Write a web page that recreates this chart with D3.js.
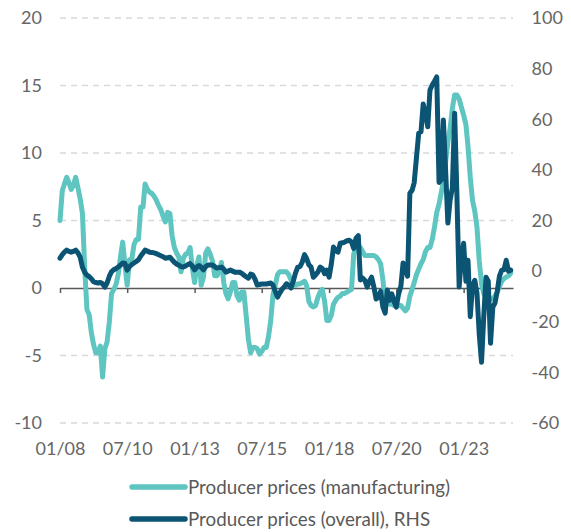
<!DOCTYPE html>
<html>
<head>
<meta charset="utf-8">
<script src="https://cdn.jsdelivr.net/npm/d3@7"></script>
<style>
body { margin: 0; background: #fff; }
svg text { font-family: Lato, sans-serif; }
</style>
</head>
<body>
<script>
const width = 571,
    height = 532

// monthly, 01/2008 .. 10/2024
const months = d3.timeMonth.range(new Date(2008, 0, 1), new Date(2024, 10, 1))

const manufacturing = [
    5.0, 7.2, 7.7, 8.2, 7.8, 7.3, 7.6, 8.2, 7.4, 6.6,
    5.5, 1.5, -1.6, -2.0, -3.3, -4.2, -4.8, -4.8, -4.3, -6.6,
    -4.5, -4.0, -2.5, -0.4, -0.1, 0.3, 1.0, 2.3, 3.4, 1.7,
    0.2, 2.1, 2.1, 3.2, 3.6, 3.6, 6.0, 6.0, 7.7, 7.3,
    7.1, 7.0, 6.8, 6.5, 6.1, 5.8, 5.3, 4.9, 5.6, 5.5,
    3.9, 3.0, 2.6, 2.3, 1.2, 2.2, 2.5, 2.6, 3.0, 1.5,
    0.4, 1.7, 2.3, 0.2, 0.8, 2.6, 2.9, 2.5, 2.0, 0.9,
    0.9, 1.3, 1.9, 0.4, -0.4, -0.8, -0.3, 0.4, 0.4, -0.6,
    -0.9, -0.3, -0.3, -2.0, -3.8, -4.8, -4.4, -4.4, -4.5, -4.9,
    -4.7, -4.4, -4.4, -3.6, -2.4, -0.5, 0.2, 1.0, 1.2, 1.2,
    1.2, 1.2, 1.0, 0.6, 0.3, 0.2, 0.3, 0.3, 0.4, 0.5,
    0.2, -1.0, -1.3, -1.4, -1.3, -0.7, -0.3, -0.1, -1.0, -2.4,
    -2.4, -2.0, -1.2, -0.9, -0.7, -0.6, -0.4, -0.4, -0.3, -0.2,
    -0.1, 2.5, 3.1, 3.1, 3.0, 2.7, 2.4, 2.4, 2.4, 2.4,
    2.4, 2.3, 2.1, 1.8, 0.6, -1.0, -1.1, -1.2, -1.2, -1.3,
    -1.3, -1.3, -1.3, -1.5, -1.7, -1.5, -0.6, -0.1, 0.4, 1.0,
    1.4, 1.8, 2.1, 2.7, 3.0, 3.0, 3.6, 4.5, 5.6, 6.2,
    7.0, 7.9, 9.3, 10.8, 11.8, 13.3, 14.3, 14.3, 14.0, 13.4,
    12.8, 12.1, 10.5, 8.2, 6.5, 5.7, 4.5, 2.0, 0.3, -0.4,
    -0.7, -0.8, -0.8, -0.8, -0.6, -0.3, 0.1, 0.5, 0.7, 0.8, 0.9, 1.1
]

const overall = [
    5.1, 6.5, 7.5, 8.3, 7.8, 7.5, 7.8, 8.3, 7.2, 5.5,
    1.5, -0.4, -1.6, -2.2, -3.0, -4.2, -4.5, -4.7, -4.5, -5.0,
    -6.3, -4.7, -2.0, -0.2, 0.6, 1.0, 1.6, 2.4, 3.2, 3.0,
    0.4, 1.8, 2.6, 3.2, 3.8, 4.5, 6.0, 7.2, 8.3, 7.9,
    7.5, 7.4, 7.2, 6.9, 6.5, 6.1, 5.7, 5.1, 5.3, 5.5,
    4.5, 3.5, 2.8, 2.3, 1.8, 1.6, 2.0, 2.6, 3.0, 2.0,
    0.5, 1.6, 2.2, 1.5, 0.5, 1.8, 2.4, 2.4, 2.4, 1.8,
    1.2, 1.4, 1.6, 0.8, -0.4, 0.0, 0.4, 0.0, -0.4, -0.4,
    -0.4, -0.8, -1.6, -2.2, -2.8, -1.2, -1.5, -3.2, -5.5, -5.3,
    -5.1, -5.1, -5.1, -4.9, -4.7, -5.5, -8.0, -10.3, -8.7, -7.2,
    -6.3, -5.0, -5.5, -6.7, -4.0, -0.8, 1.6, 1.8, 3.6, 6.5,
    5.0, 2.5, 1.6, -2.4, -1.5, -0.4, 1.6, 1.0, -1.0, 0.4,
    -2.4, 3.0, 9.5, 8.0, 7.5, 11.0, 11.2, 11.5, 12.0, 12.2,
    11.5, 9.0, 13.0, 14.0, -3.5, -2.8, -3.6, -6.3, -4.0, -2.4,
    -6.3, -11.0, -10.3, -8.0, -14.2, -16.6, -7.5, -11.5, -9.0, -12.0,
    -14.2, -9.0, -6.0, 3.2, 1.0, -2.0, 30.8, 32.0, 35.0, 45.0,
    54.5, 55.0, 66.0, 62.0, 57.0, 71.5, 73.5, 75.0, 76.7, 35.0,
    36.0, 59.7, 40.0, 19.0, 28.0, 33.0, 62.4, 30.8, -6.3, 5.0,
    11.0, -4.0, 4.3, -18.0, -6.0, -3.6, -8.7, -25.0, -36.0, -18.0,
    -2.4, -4.0, -28.5, -14.2, -12.6, -8.0, -2.0, 0.4, 0.5, 4.3, 0.0, 0.4
]

const xTickLabels = ["01/08", "07/10", "01/13", "07/15", "01/18", "07/20", "01/23"]
const leftTicks = [-10, -5, 0, 5, 10, 15, 20]
const rightTicks = [-60, -40, -20, 0, 20, 40, 60, 80, 100]
const seriesNames = ["Producer prices (manufacturing)", "Producer prices (overall), RHS"]

const colors = ["#5ec5c1", "#0b5473"]
const axisGrey = "#666"
const plain = d => String(d)   // keep the ASCII hyphen for negatives

const svg = d3.select("body")
    .append("svg")
    .attr("width", width)
    .attr("height", height)

const x = d3.scaleTime()
    .domain([new Date(2008, 0, 1), new Date(2024, 10, 1)])
    .range([60, 513])
const yLeft = d3.scaleLinear().domain([-10, 20]).range([423, 18])
const yRight = d3.scaleLinear().domain([-60, 100]).range([423, 18])

const parseTick = d3.timeParse("%m/%y")
const tickDates = xTickLabels.map(parseTick)

// dashed grid
svg.append("g")
    .selectAll("line")
    .data(leftTicks.filter(d => d !== 0))
    .join("line")
    .attr("x1", 60)
    .attr("x2", 513)
    .attr("y1", d => yLeft(d))
    .attr("y2", d => yLeft(d))
    .attr("stroke", "#d9d9d9")
    .attr("stroke-width", 1.5)
    .attr("stroke-dasharray", "6,5")

// left axis labels
svg.append("g")
    .attr("transform", "translate(60,0)")
    .call(d3.axisLeft(yLeft).tickValues(leftTicks).tickSize(0).tickPadding(18).tickFormat(plain))
    .call(g => g.select(".domain").remove())
    .selectAll("text")
    .attr("font-size", 18)
    .attr("font-family", "Lato, sans-serif")
    .attr("fill", axisGrey)

// right axis labels
svg.append("g")
    .attr("transform", "translate(513,0)")
    .call(d3.axisRight(yRight).tickValues(rightTicks).tickSize(0).tickPadding(18.5).tickFormat(plain))
    .call(g => g.select(".domain").remove())
    .selectAll("text")
    .attr("font-size", 18)
    .attr("font-family", "Lato, sans-serif")
    .attr("fill", axisGrey)

// zero line with ticks
svg.append("g")
    .attr("transform", `translate(0,${yLeft(0)})`)
    .call(d3.axisBottom(x).tickValues(tickDates).tickSize(5).tickSizeOuter(0).tickFormat(""))
    .call(g => g.selectAll("path, line").attr("stroke", "#595959").attr("stroke-width", 1.5))

// date labels
svg.append("g")
    .attr("transform", `translate(0,${yLeft(-10)})`)
    .call(d3.axisBottom(x).tickValues(tickDates).tickSize(0).tickPadding(19)
        .tickFormat((d, i) => xTickLabels[i]))
    .call(g => g.select(".domain").remove())
    .selectAll("text")
    .attr("font-size", 18)
    .attr("font-family", "Lato, sans-serif")
    .attr("fill", axisGrey)

const lineLeft = d3.line()
    .x((d, i) => x(months[i]))
    .y(d => yLeft(d))
const lineRight = d3.line()
    .x((d, i) => x(months[i]))
    .y(d => yRight(d))

svg.append("path")
    .attr("d", lineLeft(manufacturing))
    .attr("fill", "none")
    .attr("stroke", colors[0])
    .attr("stroke-width", 5)
    .attr("stroke-linejoin", "round")
    .attr("stroke-linecap", "round")

svg.append("path")
    .attr("d", lineRight(overall))
    .attr("fill", "none")
    .attr("stroke", colors[1])
    .attr("stroke-width", 5)
    .attr("stroke-linejoin", "round")
    .attr("stroke-linecap", "round")

// legend
const legend = svg.append("g")
    .selectAll("g")
    .data(seriesNames)
    .join("g")
    .attr("transform", (d, i) => `translate(0,${487 + i * 32})`)

legend.append("line")
    .attr("x1", 132)
    .attr("x2", 185)
    .attr("stroke", (d, i) => colors[i])
    .attr("stroke-width", 5.5)
    .attr("stroke-linecap", "round")

legend.append("text")
    .attr("x", 188)
    .attr("dy", "0.35em")
    .attr("font-size", 18.8)
    .attr("fill", "#595959")
    .text(d => d)
</script>
</body>
</html>
